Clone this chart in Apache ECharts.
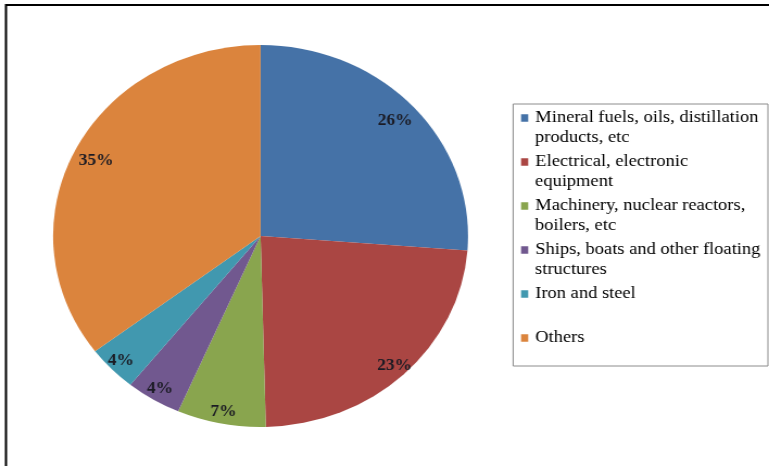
<!DOCTYPE html>
<html>
<head>
<meta charset="utf-8">
<script src="https://cdn.jsdelivr.net/npm/echarts@6/dist/echarts.min.js"></script>
<style>
  html, body { margin: 0; padding: 0; background: #fff; overflow: hidden; }
  #wrap { width: 769px; height: 466px; overflow: hidden; }
  #chart { width: 708px; height: 466px; transform: scaleX(1.0862); transform-origin: 0 0; }
</style>
</head>
<body>
<div id="wrap"><div id="chart"></div></div>
<script>
// ---- data ----
const categories = [
  "Mineral fuels, oils, distillation products, etc",
  "Electrical, electronic equipment",
  "Machinery, nuclear reactors, boilers, etc",
  "Ships, boats and other floating structures",
  "Iron and steel",
  "Others"
];
const legendLine1 = [
  "Mineral fuels, oils, distillation",
  "Electrical, electronic",
  "Machinery, nuclear reactors,",
  "Ships, boats and other floating",
  "Iron and steel",
  "Others"
];
const legendLine2 = [
  "products, etc",
  "equipment",
  "boilers, etc",
  "structures",
  " ",
  " "
];
const shares = [26.2, 23.4, 6.9, 4.3, 3.9, 35.3];
const colors = ["#4572A7", "#AA4643", "#89A54E", "#71588F", "#4198AF", "#DB843D"];

// ---- chart ----
const chart = echarts.init(document.getElementById('chart'), null, { renderer: 'canvas' });
const pieData = categories.map((n, i) => ({ name: n, value: shares[i] }));

const rich = {
  t: { fontFamily: 'Liberation Serif', fontSize: 17, lineHeight: 20, color: '#000' },
  g: { width: 6.5, lineHeight: 20 },
  ind: { width: 12.9, lineHeight: 20 }
};
colors.forEach((c, i) => {
  rich['s' + i] = { width: 6.6, height: 7.5, lineHeight: 20, backgroundColor: c };
});

const labelStyle = {
  position: 'inside',
  fontFamily: 'Liberation Serif',
  fontSize: 16,
  fontWeight: 'bold',
  color: '#1b1b24',
  formatter: function (p) { return Math.round(p.percent) + '%'; }
};
// large slices get their label on an inner ring, small ones nearer the edge
function labelRing(radius, showBig) {
  return {
    type: 'pie',
    center: [239.9, 236],
    radius: radius,
    startAngle: 90,
    clockwise: true,
    silent: true,
    avoidLabelOverlap: false,
    legendHoverLink: false,
    itemStyle: { color: 'rgba(0,0,0,0)', borderWidth: 0 },
    labelLine: { show: false },
    emphasis: { disabled: true },
    data: pieData.map(d => ({
      name: d.name, value: d.value,
      label: Object.assign({ show: (d.value > 25) === showBig }, labelStyle)
    }))
  };
}

const option = {
  backgroundColor: '#fff',
  animation: false,
  color: colors,
  legend: {
    orient: 'vertical',
    left: 474.7,
    top: 108,
    padding: 0,
    itemGap: 4,
    itemWidth: 0,
    itemHeight: 0,
    icon: 'rect',
    data: categories,
    textStyle: { fontFamily: 'Liberation Serif', fontSize: 17, lineHeight: 20, color: '#000', rich: rich },
    formatter: function (name) {
      const i = categories.indexOf(name);
      return '{s' + i + '| }{g| }{t|' + legendLine1[i] + '}\n{ind| }{t|' + legendLine2[i] + '}';
    }
  },
  graphic: [
    {
      type: 'polyline',
      shape: { points: [[5.5, 470], [5.5, 5], [710, 5]] },
      style: { stroke: '#000', lineWidth: 2, fill: null },
      silent: true
    },
    {
      type: 'rect',
      shape: { x: 472.4, y: 104, width: 234.6, height: 262 },
      style: { stroke: '#8c8c8c', lineWidth: 1, fill: null },
      silent: true
    }
  ],
  series: [
    {
      type: 'pie',
      center: [239.9, 236],
      radius: [0, 191],
      startAngle: 90,
      clockwise: true,
      avoidLabelOverlap: false,
      label: { show: false },
      labelLine: { show: false },
      itemStyle: { borderWidth: 0 },
      emphasis: { scale: false },
      data: pieData
    },
    labelRing([152, 180], true),
    labelRing([162, 190], false)
  ]
};
chart.setOption(option);
</script>
</body>
</html>
